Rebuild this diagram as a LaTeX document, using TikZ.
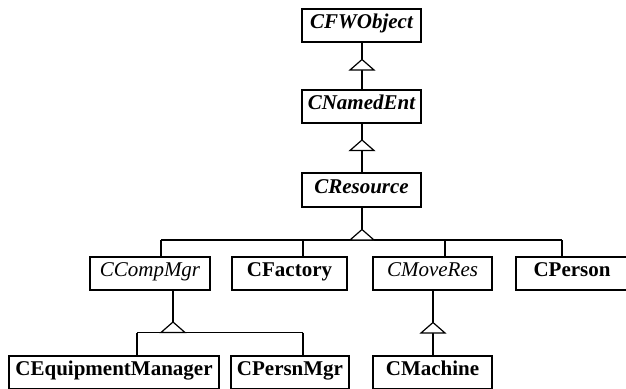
\documentclass[tikz,border=0pt]{standalone}
\usepackage{fontspec}
\setmainfont{Liberation Serif}
\begin{document}
\begin{tikzpicture}[x=1pt,y=-1pt]
  \tikzstyle{cls_box}       = [shape = rectangle, draw = black, line width=1.8pt, inner sep=0pt, minimum height=33pt, text height=14pt, text depth=8pt, font=\fontsize{21}{25}\selectfont\bfseries]
  \tikzstyle{cls_box__abs}  = [cls_box, font=\fontsize{21}{25}\selectfont\bfseries\itshape]
  \tikzstyle{cls_box__ifc}  = [cls_box, font=\fontsize{21}{25}\selectfont\itshape]
  \tikzstyle{cls_line}      = [line width=1.8pt]
  \tikzstyle{cls_tri}       = [line width=1.2pt, fill=white, line join=miter]

  \useasboundingbox (0,0) rectangle (626,388);

  \node[cls_box__abs, minimum width=119pt] at (361.5, 25.5) (fwobj)    {CFWObject};
  \node[cls_box__abs, minimum width=119pt] at (361.5,106.5) (named)    {CNamedEnt};
  \node[cls_box__abs, minimum width=119pt, minimum height=34pt] at (361.5,190.0) (res) {CResource};

  \node[cls_box__ifc, minimum width=120pt] at (150.0,273.5) (compmgr)  {CCompMgr};
  \node[cls_box,      minimum width=115pt] at (289.5,273.5) (factory)  {CFactory};
  \node[cls_box__ifc, minimum width=119pt] at (432.5,273.5) (moveres)  {CMoveRes};
  \node[cls_box,      minimum width=112pt] at (572.0,273.5) (person)   {CPerson};

  \node[cls_box, minimum width=210pt] at (114.0,372.5) (equipmgr) {CEquipmentManager};
  \node[cls_box, minimum width=118pt] at (290.0,372.5) (persnmgr) {CPersnMgr};
  \node[cls_box, minimum width=119pt] at (432.5,372.5) (machine)  {CMachine};

  % triangle tips and bar joints
  \coordinate (t1) at (362, 59.5);
  \coordinate (t2) at (362,140.0);
  \coordinate (t3) at (362,229.5);
  \coordinate (t4) at (173,322.0);
  \coordinate (t5) at (433,322.5);

  \coordinate (j1) at (161,240);
  \coordinate (j2) at (303,240);
  \coordinate (j3) at (445,240);
  \coordinate (j4) at (562,240);

  \coordinate (k1) at (137,332.5);
  \coordinate (k2) at (303,332.5);

  \draw[cls_line]
    (fwobj.south -| t1) -- (named.north -| t1)
    (named.south -| t2) -- (res.north -| t2)
    (res.south -| t3)   -- (t3)
    (j1) -- (j4)
    (j1) -- (j1 |- compmgr.north)
    (j2) -- (j2 |- factory.north)
    (j3) -- (j3 |- moveres.north)
    (j4) -- (j4 |- person.north)
    (compmgr.south -| t4) -- (t4)
    (k1) -- (k2)
    (k1) -- (k1 |- equipmgr.north)
    (k2) -- (k2 |- persnmgr.north)
    (moveres.south -| t5) -- (machine.north -| t5)
  ;

  \foreach \t in {t1,t2,t3,t4,t5}
    \draw[cls_tri] (\t) -- ++(-12,10.5) -- ++(24,0) -- cycle;

\end{tikzpicture}
\end{document}
